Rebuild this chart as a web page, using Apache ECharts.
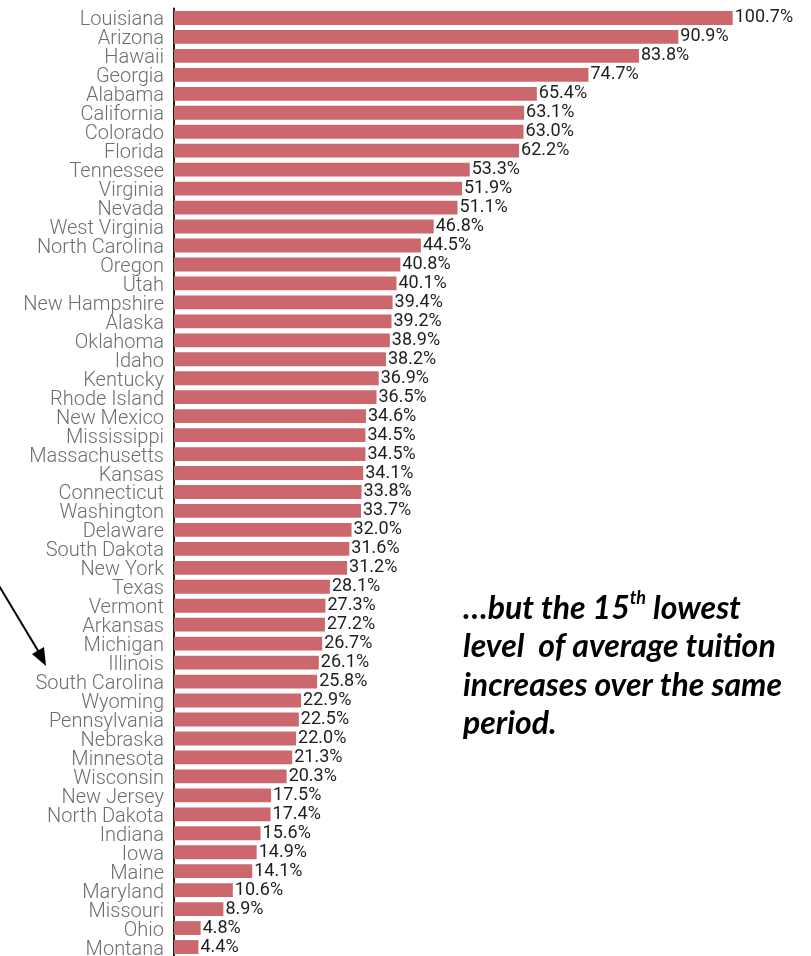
<!DOCTYPE html>
<html>
<head>
<meta charset="utf-8">
<script src="https://cdn.jsdelivr.net/npm/echarts@6/dist/echarts.min.js"></script>
<style>
  html, body { margin: 0; padding: 0; background: #fff; }
  #chart { width: 811px; height: 956px; }
</style>
</head>
<body>
<div id="chart"></div>
<script>
// Percent change in average tuition by state, ordered from largest to smallest
const states = [
  'Louisiana', 'Arizona', 'Hawaii', 'Georgia', 'Alabama', 'California', 'Colorado', 'Florida',
  'Tennessee', 'Virginia', 'Nevada', 'West Virginia', 'North Carolina', 'Oregon', 'Utah',
  'New Hampshire', 'Alaska', 'Oklahoma', 'Idaho', 'Kentucky', 'Rhode Island', 'New Mexico',
  'Mississippi', 'Massachusetts', 'Kansas', 'Connecticut', 'Washington', 'Delaware',
  'South Dakota', 'New York', 'Texas', 'Vermont', 'Arkansas', 'Michigan', 'Illinois',
  'South Carolina', 'Wyoming', 'Pennsylvania', 'Nebraska', 'Minnesota', 'Wisconsin',
  'New Jersey', 'North Dakota', 'Indiana', 'Iowa', 'Maine', 'Maryland', 'Missouri', 'Ohio', 'Montana'
];
const changePct = [
  100.7, 90.9, 83.8, 74.7, 65.4, 63.1, 63.0, 62.2,
  53.3, 51.9, 51.1, 46.8, 44.5, 40.8, 40.1,
  39.4, 39.2, 38.9, 38.2, 36.9, 36.5, 34.6,
  34.5, 34.5, 34.1, 33.8, 33.7, 32.0,
  31.6, 31.2, 28.1, 27.3, 27.2, 26.7, 26.1,
  25.8, 22.9, 22.5, 22.0, 21.3, 20.3,
  17.5, 17.4, 15.6, 14.9, 14.1, 10.6, 8.9, 4.8, 4.4
];
const noteLines = ['…but the 15', ' lowest', 'level  of average tuition', 'increases over the same', 'period.'];

const chart = echarts.init(document.getElementById('chart'), null, { renderer: 'canvas' });

const noteFont = 'Lato, "Open Sans", sans-serif';

chart.setOption({
  animation: false,
  grid: {
    left: 174, top: 8.5, width: 610.3, height: 948,
    containLabel: false,
    outerBoundsMode: 'none'
  },
  xAxis: {
    type: 'value', min: 0, max: 110,
    show: false
  },
  yAxis: {
    type: 'category',
    data: states,
    inverse: true,
    axisLine: { show: true, lineStyle: { color: '#222', width: 2 } },
    axisTick: { show: false },
    splitLine: { show: false },
    axisLabel: {
      interval: 0,
      margin: 10,
      formatter: name => '{st|' + name + '}',
      rich: {
        st: {
          color: '#6e6e6e',
          fontFamily: 'Roboto, sans-serif',
          fontWeight: 300,
          fontSize: 20,
          padding: [5, 0, 0, 0]
        }
      }
    }
  },
  series: [{
    type: 'bar',
    data: changePct,
    barCategoryGap: '27%',
    itemStyle: { color: '#cc686d' },
    label: {
      show: true,
      position: 'right',
      distance: 2,
      color: '#1e1e1e',
      fontFamily: 'Roboto, sans-serif',
      fontSize: 18,
      formatter: p => p.value.toFixed(1) + '%'
    }
  }],
  graphic: [
    {
      type: 'line',
      shape: { x1: -2, y1: 584, x2: 40, y2: 654 },
      style: { stroke: '#000', lineWidth: 2 }
    },
    {
      type: 'polygon',
      shape: { points: [[46, 666], [32, 654], [44, 647]] },
      style: { fill: '#000' }
    },
    {
      type: 'text',
      left: 463, top: 589,
      style: {
        text: '{m|' + noteLines[0] + '}{s|th}{m|' + noteLines[1] + '}\n{m|' + noteLines[2] + '}\n{m|' + noteLines[3] + '}\n{m|' + noteLines[4] + '}',
        rich: {
          m: { fontFamily: noteFont, fontStyle: 'italic', fontWeight: 'bold', fontSize: 32, lineHeight: 38.5, fill: '#000' },
          s: { fontFamily: noteFont, fontStyle: 'italic', fontWeight: 'bold', fontSize: 18, lineHeight: 38.5, verticalAlign: 'top', fill: '#000' }
        }
      }
    }
  ]
});
</script>
</body>
</html>
